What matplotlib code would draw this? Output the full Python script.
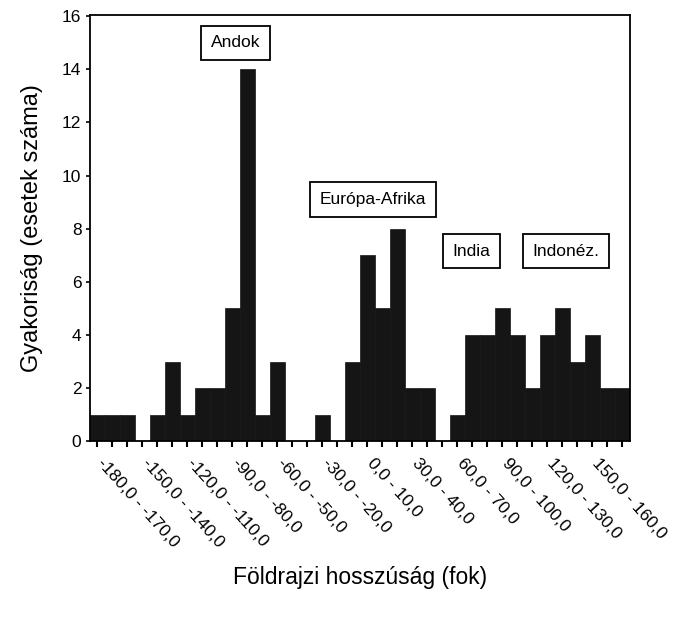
import numpy as np
import matplotlib.pyplot as plt
import matplotlib.transforms as mtransforms

plt.rcParams['font.family'] = ['Liberation Sans', 'DejaVu Sans']

# 10 fokos sávok -180-tól 180-ig
bin_starts = list(range(-180, 180, 10))
counts = [1, 1, 1, 0, 1, 3, 1, 2, 2, 5, 14, 1, 3, 0, 0, 1, 0, 3,
          7, 5, 8, 2, 2, 0, 1, 4, 4, 5, 4, 2, 4, 5, 3, 4, 2, 2]

regions = ["Andok", "Európa-Afrika", "India", "Indonéz."]
region_bins = [9.23, 18.37, 24.97, 31.23]
region_y = [15.0, 9.1, 7.15, 7.15]


def fmt(v):
    return f"{v},0"


labels = [f"{fmt(s)} - {fmt(s + 10)}" for s in bin_starts]

fig = plt.figure(figsize=(6.8, 6.18), dpi=100)
ax = fig.add_axes([0.132, 0.286, 0.794, 0.69])

x = np.arange(len(counts))
ax.bar(x, counts, width=1.0, color='#151515', edgecolor='#151515', linewidth=0.5)

ax.set_xlim(-0.5, len(counts) - 0.5)
ax.set_ylim(0, 16.05)
ax.set_yticks(range(0, 17, 2))
ax.tick_params(axis='y', labelsize=12.5, length=3, width=1.2, pad=3)

ax.set_xticks(x[::3])
ax.set_xticklabels(labels[::3], rotation=-48, rotation_mode='anchor',
                   ha='left', va='top', fontsize=12.5)
ax.set_xticks(x, minor=True)
ax.tick_params(axis='x', which='both', length=4, width=1.5, pad=6)

# címkék kicsit jobbra tolva
shift = mtransforms.ScaledTranslation(8 / 100, 0, fig.dpi_scale_trans)
for lbl in ax.get_xticklabels():
    lbl.set_transform(lbl.get_transform() + shift)

for sp in ax.spines.values():
    sp.set_linewidth(1.3)

for name, bx, by in zip(regions, region_bins, region_y):
    ax.text(bx, by, name, ha='center', va='center', fontsize=12.5,
            bbox=dict(boxstyle='square,pad=0.55', fc='white', ec='black', lw=1.3))

ax.set_ylabel("Gyakoriság (esetek száma)", fontsize=17, labelpad=14)
fig.text(0.53, 0.065, "Földrajzi hosszúság (fok)", ha='center', va='center', fontsize=16.5)

fig.savefig("out.png", dpi=100)
